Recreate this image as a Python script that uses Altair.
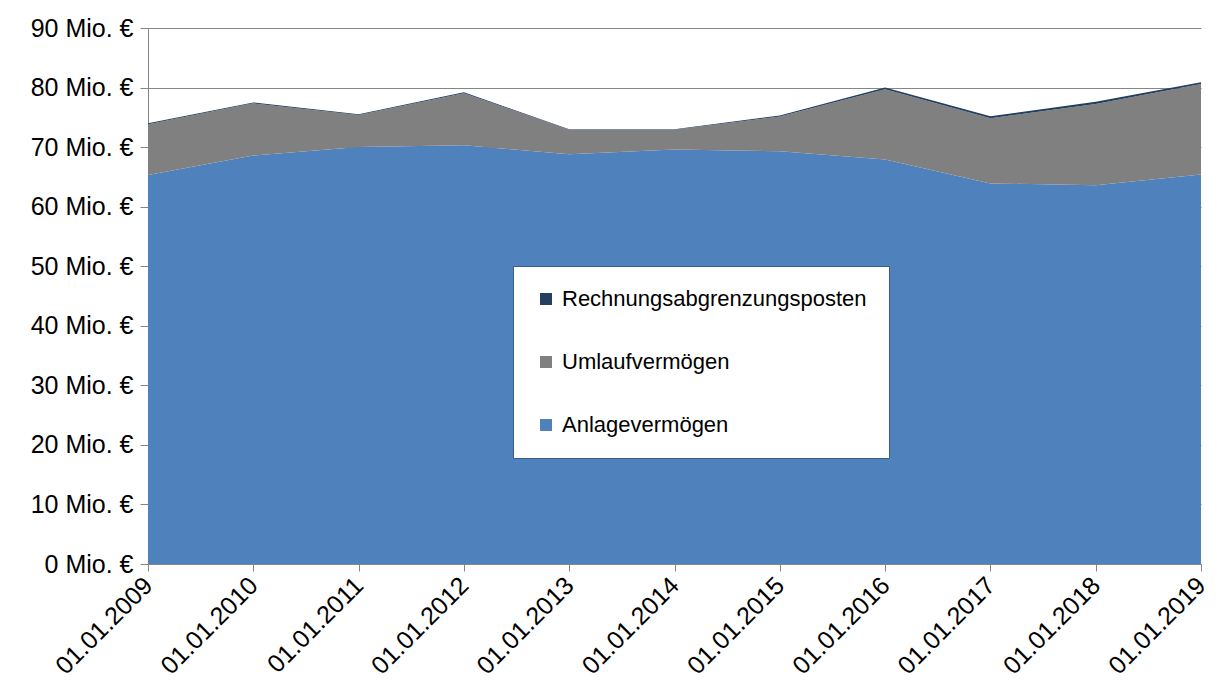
import altair as alt
import pandas as pd

years = ["01.01.2009", "01.01.2010", "01.01.2011", "01.01.2012", "01.01.2013", "01.01.2014",
         "01.01.2015", "01.01.2016", "01.01.2017", "01.01.2018", "01.01.2019"]
anlage = [65.3, 68.6, 70.0, 70.3, 68.8, 69.6, 69.3, 67.9, 63.9, 63.6, 65.4]
umlauf = [8.55, 8.75, 5.4, 8.75, 4.1, 3.3, 5.85, 11.8, 10.95, 13.65, 15.2]
rap = [0.15, 0.15, 0.1, 0.15, 0.1, 0.1, 0.15, 0.3, 0.35, 0.35, 0.3]

series = ["Rechnungsabgrenzungsposten", "Umlaufvermögen", "Anlagevermögen"]
colors = ["#243F60", "#808080", "#4F81BD"]
stack_rank = {"Anlagevermögen": 0, "Umlaufvermögen": 1, "Rechnungsabgrenzungsposten": 2}

rows = []
for i, d in enumerate(years):
    for name, vals in (("Anlagevermögen", anlage), ("Umlaufvermögen", umlauf),
                       ("Rechnungsabgrenzungsposten", rap)):
        rows.append({"Datum": d, "Reihe": name, "Wert": vals[i], "rank": stack_rank[name]})
df = pd.DataFrame(rows)

FONT = "Liberation Sans"

chart = alt.Chart(df).mark_area(opacity=1).encode(
    x=alt.X("Datum:O", sort=years,
            scale=alt.Scale(type="point", padding=0),
            axis=alt.Axis(title=None, labelAngle=-45, labelAlign="right", labelBaseline="middle",
                          labelFontSize=25, labelColor="#000000", labelFont=FONT,
                          tickColor="#868686", tickSize=7, domainColor="#868686",
                          labelPadding=10, grid=False)),
    y=alt.Y("Wert:Q", stack="zero",
            scale=alt.Scale(domain=[0, 90], nice=False),
            axis=alt.Axis(title=None, values=list(range(0, 91, 10)),
                          labelExpr="datum.value + ' Mio. €'",
                          labelFontSize=25, labelColor="#000000", labelFont=FONT,
                          tickColor="#868686", tickSize=8, domainColor="#868686",
                          gridColor="#868686", gridWidth=1.2, labelPadding=7)),
    color=alt.Color("Reihe:N", scale=alt.Scale(domain=series, range=colors),
                    legend=alt.Legend(title=None, orient="none", legendX=365, legendY=238,
                                      labelFontSize=22, labelFont=FONT, labelColor="#000000",
                                      symbolType="square", symbolSize=144, symbolStrokeWidth=0,
                                      labelOffset=5, rowPadding=41, padding=22,
                                      fillColor="#FFFFFF", strokeColor="#385D8A",
                                      labelLimit=450)),
    order=alt.Order("rank:Q", sort="ascending"),
).properties(
    width=1053, height=536,
    autosize=alt.AutoSizeParams(type="none"),
    padding={"left": 140, "top": 20, "right": 16, "bottom": 120},
).configure_view(stroke=None).configure_legend(symbolOpacity=1)

chart.save("out.html", embed_options={"renderer": "svg", "actions": False})
